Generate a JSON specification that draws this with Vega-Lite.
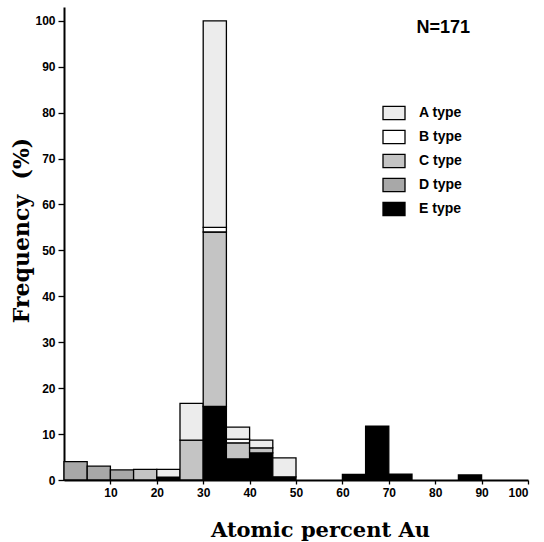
{
  "$schema": "https://vega.github.io/schema/vega-lite/v6.json",
  "width": 464,
  "height": 473,
  "autosize": {"type": "none"},
  "padding": {"left": 64, "top": 7, "right": 16, "bottom": 62},
  "background": "white",
  "title": {
    "text": "N=171",
    "anchor": "end",
    "frame": "group",
    "orient": "top",
    "dx": -58,
    "dy": 34,
    "font": "Liberation Sans",
    "fontSize": 18,
    "fontWeight": "bold",
    "color": "black"
  },
  "data": {
    "values": [
      {"start": 0, "end": 5, "type": "D type", "pct": 4.0},
      {"start": 5, "end": 10, "type": "D type", "pct": 3.0},
      {"start": 10, "end": 15, "type": "D type", "pct": 2.2},
      {"start": 15, "end": 20, "type": "C type", "pct": 2.3},
      {"start": 20, "end": 25, "type": "E type", "pct": 0.6},
      {"start": 20, "end": 25, "type": "A type", "pct": 1.7},
      {"start": 25, "end": 30, "type": "C type", "pct": 8.7},
      {"start": 25, "end": 30, "type": "A type", "pct": 8.0},
      {"start": 30, "end": 35, "type": "E type", "pct": 16.0},
      {"start": 30, "end": 35, "type": "C type", "pct": 38.0},
      {"start": 30, "end": 35, "type": "B type", "pct": 1.0},
      {"start": 30, "end": 35, "type": "A type", "pct": 45.0},
      {"start": 35, "end": 40, "type": "E type", "pct": 4.6},
      {"start": 35, "end": 40, "type": "C type", "pct": 3.5},
      {"start": 35, "end": 40, "type": "B type", "pct": 0.8},
      {"start": 35, "end": 40, "type": "A type", "pct": 2.6},
      {"start": 40, "end": 45, "type": "E type", "pct": 5.9},
      {"start": 40, "end": 45, "type": "C type", "pct": 1.1},
      {"start": 40, "end": 45, "type": "A type", "pct": 1.7},
      {"start": 45, "end": 50, "type": "E type", "pct": 0.7},
      {"start": 45, "end": 50, "type": "A type", "pct": 4.1},
      {"start": 60, "end": 65, "type": "E type", "pct": 1.2},
      {"start": 65, "end": 70, "type": "E type", "pct": 11.7},
      {"start": 70, "end": 75, "type": "E type", "pct": 1.3},
      {"start": 85, "end": 90, "type": "E type", "pct": 1.1}
    ]
  },
  "transform": [
    {"stack": "pct", "groupby": ["start"], "sort": [{"field": "type", "order": "descending"}], "as": ["y0", "y1"]}
  ],
  "mark": {"type": "bar", "stroke": "black", "strokeWidth": 1.3, "opacity": 1},
  "encoding": {
    "x": {
      "field": "start",
      "type": "quantitative",
      "scale": {"domain": [0, 100], "nice": false, "zero": false},
      "axis": {
        "values": [10, 20, 30, 40, 50, 60, 70, 80, 90, 100],
        "title": "Atomic percent Au",
        "titleFont": "DejaVu Serif",
        "titleFontSize": 21,
        "titleFontWeight": "bold",
        "titleColor": "black",
        "titleX": 256,
        "titleY": 56,
        "titleBaseline": "alphabetic",
        "labelFont": "Liberation Sans",
        "labelFontSize": 12,
        "labelFontWeight": "bold",
        "labelColor": "black",
        "labelPadding": 3,
        "tickSize": 4,
        "tickColor": "black",
        "tickWidth": 1.3,
        "domainColor": "black",
        "domainWidth": 2,
        "grid": false
      }
    },
    "x2": {"field": "end"},
    "y": {
      "field": "y0",
      "type": "quantitative",
      "scale": {"domain": [0, 103], "nice": false},
      "axis": {
        "values": [0, 10, 20, 30, 40, 50, 60, 70, 80, 90, 100],
        "title": "Frequency\u00a0 (%)",
        "titleFont": "DejaVu Serif",
        "titleFontSize": 22,
        "titleFontWeight": "bold",
        "titleColor": "black",
        "titleAngle": -90,
        "titleX": -36,
        "titleY": 223,
        "titleAlign": "center",
        "titleBaseline": "alphabetic",
        "labelFont": "Liberation Sans",
        "labelFontSize": 12,
        "labelFontWeight": "bold",
        "labelColor": "black",
        "labelPadding": 3,
        "tickSize": 6,
        "tickColor": "black",
        "tickWidth": 1.3,
        "domainColor": "black",
        "domainWidth": 2,
        "grid": false
      }
    },
    "y2": {"field": "y1"},
    "fill": {
      "field": "type",
      "type": "nominal",
      "scale": {
        "domain": ["A type", "B type", "C type", "D type", "E type"],
        "range": ["#ececec", "#ffffff", "#c4c4c4", "#a8a8a8", "#000000"]
      },
      "legend": {
        "title": null,
        "orient": "none",
        "legendX": 318,
        "legendY": 94,
        "symbolType": "M-1,-0.6H1V0.6H-1Z",
        "symbolSize": 484,
        "symbolStrokeColor": "black",
        "symbolStrokeWidth": 1.3,
        "symbolOpacity": 1,
        "labelFont": "Liberation Sans",
        "labelFontSize": 14,
        "labelFontWeight": "bold",
        "labelColor": "black",
        "labelOffset": 13,
        "rowPadding": 2
      }
    }
  },
  "config": {
    "view": {"stroke": null}
  }
}
